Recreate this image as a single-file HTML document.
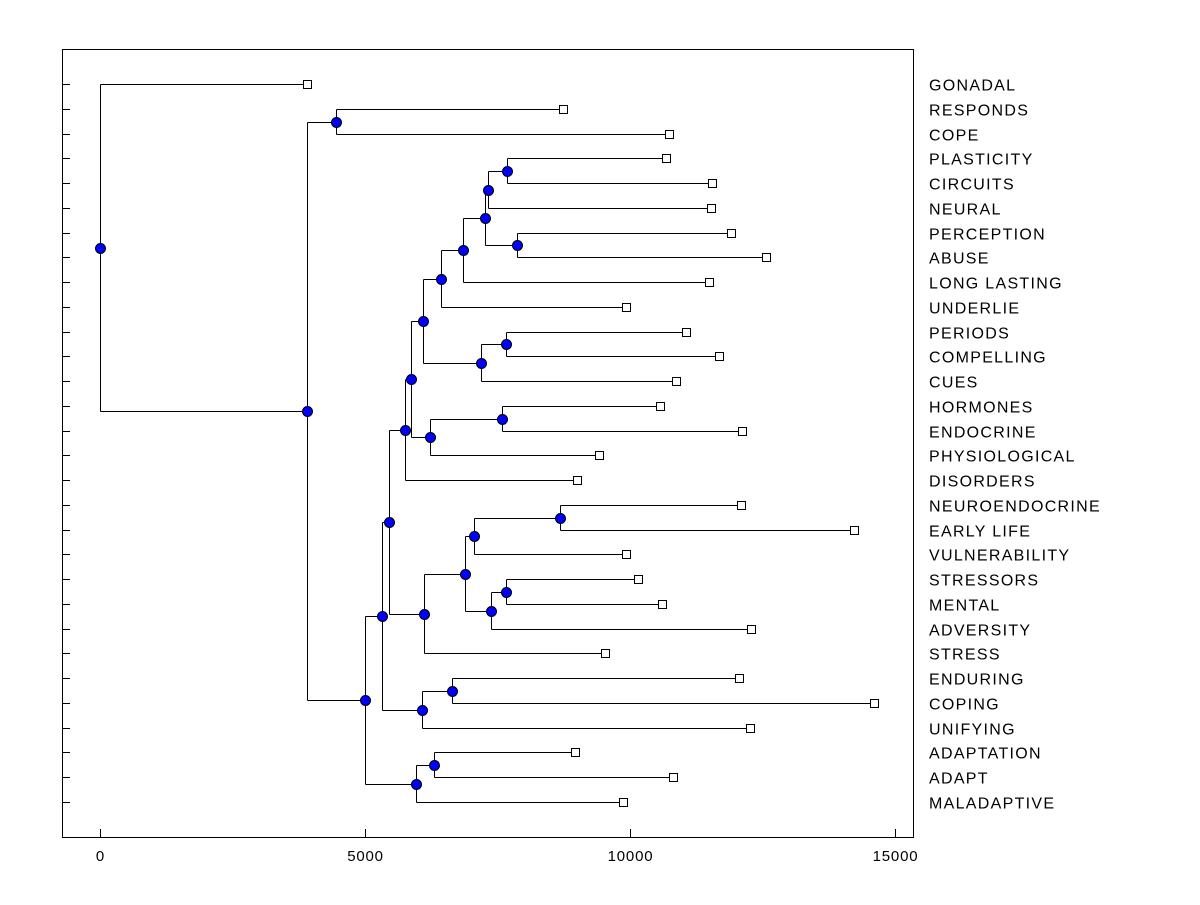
<!DOCTYPE html>
<html><head><meta charset="utf-8"><style>
body{margin:0;background:#fff;}
svg text{font-family:"Liberation Sans",Arial,sans-serif;}
</style></head><body>
<svg id="chart" width="1200" height="900" xmlns="http://www.w3.org/2000/svg">
<rect x="62.5" y="49.5" width="851" height="788" fill="none" stroke="#000" stroke-width="1" shape-rendering="crispEdges"/>
<g id="g"></g>
</svg>
<script>
const leaves=["GONADAL","RESPONDS","COPE","PLASTICITY","CIRCUITS","NEURAL","PERCEPTION","ABUSE","LONG LASTING","UNDERLIE","PERIODS","COMPELLING","CUES","HORMONES","ENDOCRINE","PHYSIOLOGICAL","DISORDERS","NEUROENDOCRINE","EARLY LIFE","VULNERABILITY","STRESSORS","MENTAL","ADVERSITY","STRESS","ENDURING","COPING","UNIFYING","ADAPTATION","ADAPT","MALADAPTIVE"];
const leafHeights=[3900,8740,10740,10680,11550,11530,11910,12570,11490,9930,11060,11680,10870,10570,12110,9420,9000,12100,14230,9930,10150,10610,12280,9530,12060,14600,12270,8960,10810,9870];
const nodeNames=["S","R","Q","P","O","M","T","N","K","U","L","J","H","Y","W","Z","X","V","I","F","AA","G","D","AB","E","C","B","A","ROOT"];
const nodeChildren=[["PLASTICITY","CIRCUITS"],["PERCEPTION","ABUSE"],["S","NEURAL"],["Q","R"],["P","LONG LASTING"],["O","UNDERLIE"],["PERIODS","COMPELLING"],["T","CUES"],["M","N"],["HORMONES","ENDOCRINE"],["U","PHYSIOLOGICAL"],["K","L"],["J","DISORDERS"],["NEUROENDOCRINE","EARLY LIFE"],["Y","VULNERABILITY"],["STRESSORS","MENTAL"],["Z","ADVERSITY"],["W","X"],["V","STRESS"],["H","I"],["ENDURING","COPING"],["AA","UNIFYING"],["F","G"],["ADAPTATION","ADAPT"],["AB","MALADAPTIVE"],["D","E"],["RESPONDS","COPE"],["B","C"],["GONADAL","A"]];
const nodeHeights=[7680,7870,7320,7260,6850,6430,7660,7190,6090,7590,6230,5870,5750,8680,7060,7660,7380,6890,6110,5450,6640,6080,5320,6300,5960,5000,4450,3900,0];
const xTicks=[0,5000,10000,15000];

const NS="http://www.w3.org/2000/svg";
const g=document.getElementById('g');
const X=v=>Math.round(100+v*265/5000)+0.5;
const Yl=i=>Math.round(84+i*(802-84)/(leaves.length-1))+0.5;
const pos={};
leaves.forEach((n,i)=>pos[n]={x:X(leafHeights[i]),y:Yl(i)});
function mk(t,a){const e=document.createElementNS(NS,t);for(const k in a)e.setAttribute(k,a[k]);g.appendChild(e);return e;}
nodeNames.forEach((n,i)=>{
  const ch=nodeChildren[i].map(c=>pos[c]);
  pos[n]={x:X(nodeHeights[i]),y:Math.floor((ch[0].y+ch[1].y)/2)+0.5};
});
nodeNames.forEach((n,i)=>{
  const p=pos[n];const ch=nodeChildren[i].map(c=>pos[c]);
  const v=mk('line',{x1:p.x,x2:p.x,y1:ch[0].y,y2:ch[1].y,stroke:'#000','stroke-width':1,'shape-rendering':'crispEdges'});
  
  
  ch.forEach(c=>{
    const h=mk('line',{x1:p.x,x2:c.x,y1:c.y,y2:c.y,stroke:'#000','stroke-width':1,'shape-rendering':'crispEdges'});
    
    
  });
});
nodeNames.forEach(n=>{
  const p=pos[n];
  const c=mk('circle',{cx:p.x,cy:p.y,r:5,fill:'#0000ff',stroke:'#000','stroke-width':1});
  
  
});
leaves.forEach((n,i)=>{
  const p=pos[n];
  const r=mk('rect',{x:p.x-4,y:p.y-4,width:8,height:8,fill:'#fff',stroke:'#000','stroke-width':1,'shape-rendering':'crispEdges'});
  
  
  const t=mk('line',{x1:62,x2:70,y1:p.y,y2:p.y,stroke:'#000','stroke-width':1,'shape-rendering':'crispEdges'});
  
  
  const l=mk('text',{x:929,y:p.y+6,'font-size':16,'letter-spacing':1.3,fill:'#000'});
  l.textContent=n;
  
  
});
xTicks.forEach(v=>{
  const t=mk('line',{x1:X(v),x2:X(v),y1:829,y2:837,stroke:'#000','stroke-width':1,'shape-rendering':'crispEdges'});
  
  
  const l=mk('text',{x:X(v),y:861,'font-size':15,'letter-spacing':0.8,'text-anchor':'middle',fill:'#000'});
  l.textContent=v;
  
  
});
</script>
</body></html>
